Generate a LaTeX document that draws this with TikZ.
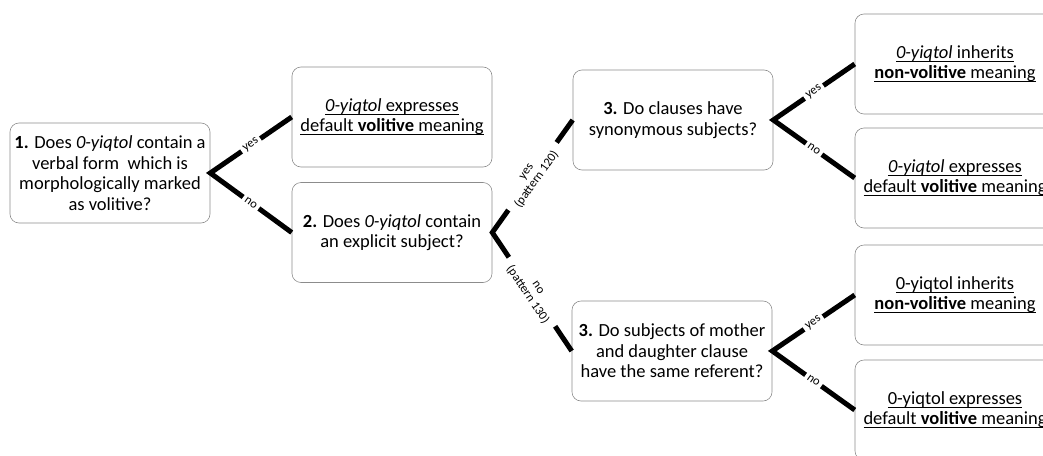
\documentclass[tikz,border=0pt]{standalone}
\usepackage{fontspec}
\setmainfont{Carlito}
\newcommand\ulx[1]{\vtop{\hbox{#1\vphantom{g}}\kern-0.8pt\hrule height 1.2pt}}
\begin{document}
\begin{tikzpicture}[x=1pt,y=-1pt,
  box/.style={draw=black!45, line width=0.6pt, rounded corners=9pt,
    minimum width=200pt, minimum height=100pt, align=center,
    font=\fontsize{18.5}{20.5}\selectfont, inner sep=1pt},
  conn/.style={line width=5pt, line join=miter},
  lbl/.style={fill=white, sloped, font=\fontsize{12.5}{13}\selectfont,
    inner ysep=0.5pt, inner xsep=3pt},
  plbl/.style={lbl, align=center, inner xsep=8pt}]
\useasboundingbox (0,0) rectangle (1043,455);
\clip (0,0) rectangle (1043,455);
\node[box] (q1) at (110,173) {\textbf{1.} Does \textit{0-yiqtol} contain a\\ verbal form\ \ which is\\ morphologically marked\\ as volitive?};
\node[box] (rA) at (392,117) {\ulx{\textit{0-yiqtol} expresses}\\ \ulx{default \textbf{volitive} meaning}};
\node[box] (q2) at (392,232.5) {\textbf{2.} Does \textit{0-yiqtol} contain\\ an explicit subject?};
\node[box] (q3a) at (673,120) {\textbf{3.} Do clauses have\\ synonymous subjects?};
\node[box] (q3b) at (672,351) {\textbf{3.} Do subjects of mother\\ and daughter clause\\ have the same referent?};
\node[box] (tr1) at (955,64) {\ulx{\textit{0-yiqtol} inherits}\\ \ulx{\textbf{non-volitive} meaning}};
\node[box] (tr2) at (955,178) {\ulx{\textit{0-yiqtol} expresses}\\ \ulx{default \textbf{volitive} meaning}};
\node[box] (br1) at (955,295) {\ulx{0-yiqtol inherits}\\ \ulx{\textbf{non-volitive} meaning}};
\node[box] (br2) at (955,410) {\ulx{0-yiqtol expresses}\\ \ulx{default \textbf{volitive} meaning}};
\draw[conn] (rA.west) -- node[lbl]{yes} (q1.east) -- node[lbl]{no} (q2.west);
\draw[conn] (q3a.west) -- node[plbl]{yes\\(pattern 120)} (q2.east) -- node[plbl]{no\\(pattern 130)} (q3b.west);
\draw[conn] (tr1.west) -- node[lbl]{yes} (q3a.east) -- node[lbl]{no} (tr2.west);
\draw[conn] (br1.west) -- node[lbl]{yes} (q3b.east) -- node[lbl]{no} (br2.west);
\end{tikzpicture}
\end{document}
